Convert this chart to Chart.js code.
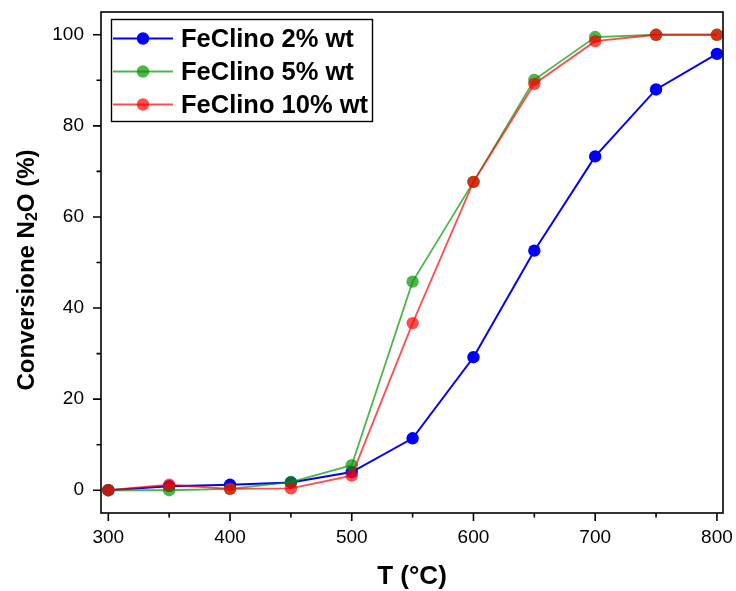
<!DOCTYPE html>
<html>
<head>
<meta charset="utf-8">
<script src="https://cdn.jsdelivr.net/npm/chart.js@4/dist/chart.umd.min.js"></script>
<style>
  html, body { margin: 0; padding: 0; background: #fff; }
  #wrap { width: 736px; height: 591px; }
</style>
</head>
<body>
<div id="wrap"><canvas id="c" width="736" height="591"></canvas></div>
<script>
// Temperatures (°C) and N2O conversion (%) for each FeClino loading
const TEMPS = [300, 350, 400, 450, 500, 550, 600, 650, 700, 750, 800];
const FE2  = [0, 0.9, 1.2, 1.7, 4.0, 11.4, 29.2, 52.6, 73.3, 88.0, 95.8];
const FE5  = [0, 0.0, 0.3, 1.8, 5.5, 45.8, 67.7, 90.1, 99.5, 100, 100];
const FE10 = [0, 1.2, 0.3, 0.4, 3.2, 36.7, 67.7, 89.2, 98.6, 100, 100];

const SERIES_NAMES = ['FeClino 2% wt', 'FeClino 5% wt', 'FeClino 10% wt'];
const SERIES_COLORS = ['rgb(0,0,255)', 'rgba(0,150,0,0.7)', 'rgba(255,0,0,0.7)'];

const X_TICKS = [300, 400, 500, 600, 700, 800];
const X_MINOR = [350, 450, 550, 650, 750];
const Y_TICKS = [0, 20, 40, 60, 80, 100];
const Y_MINOR = [10, 30, 50, 70, 90];

const X_TITLE = 'T (°C)';
const FONT = '"Liberation Sans", Arial, sans-serif';

function pts(ys) { return TEMPS.map((t, i) => ({ x: t, y: ys[i] })); }

const seriesValues = [FE2, FE5, FE10];
const datasets = seriesValues.map((vals, i) => ({
  label: SERIES_NAMES[i],
  data: pts(vals),
  borderColor: SERIES_COLORS[i],
  backgroundColor: SERIES_COLORS[i],
  pointBackgroundColor: SERIES_COLORS[i],
  pointBorderWidth: 0,
  pointRadius: 6.2,
  pointHoverRadius: 6.2,
  borderWidth: i === 0 ? 2 : 1.8,
  showLine: true,
  tension: 0,
  order: 2 - i   // 10% series on top
}));

function noScalePadding(s) {
  s.paddingTop = 0; s.paddingBottom = 0; s.paddingLeft = 0; s.paddingRight = 0;
}

// Frame, inner/outer ticks, axis titles and legend box
const decor = {
  id: 'decor',
  afterDraw(chart) {
    const ctx = chart.ctx;
    const a = chart.chartArea;
    const xs = chart.scales.x, ys = chart.scales.y;
    ctx.save();
    ctx.strokeStyle = '#000';
    ctx.lineWidth = 1.6;
    ctx.strokeRect(a.left, a.top, a.right - a.left, a.bottom - a.top);

    ctx.lineWidth = 1.6;
    ctx.beginPath();
    X_TICKS.forEach(v => { const p = xs.getPixelForValue(v); ctx.moveTo(p, a.bottom); ctx.lineTo(p, a.bottom + 8); });
    X_MINOR.forEach(v => { const p = xs.getPixelForValue(v); ctx.moveTo(p, a.bottom); ctx.lineTo(p, a.bottom + 4.5); });
    Y_TICKS.forEach(v => { const p = ys.getPixelForValue(v); ctx.moveTo(a.left, p); ctx.lineTo(a.left - 8, p); });
    Y_MINOR.forEach(v => { const p = ys.getPixelForValue(v); ctx.moveTo(a.left, p); ctx.lineTo(a.left - 4.5, p); });
    ctx.stroke();

    // x title
    ctx.fillStyle = '#000';
    ctx.font = 'bold 26px ' + FONT;
    ctx.textAlign = 'center';
    ctx.textBaseline = 'middle';
    ctx.fillText(X_TITLE, (a.left + a.right) / 2, 577);

    // y title with subscript
    ctx.save();
    ctx.translate(27, 270);
    ctx.rotate(-Math.PI / 2);
    const parts = [
      { t: 'Conversione N', f: 'bold 24px ' + FONT, dy: 0 },
      { t: '2', f: 'bold 16px ' + FONT, dy: 6 },
      { t: 'O (%)', f: 'bold 24px ' + FONT, dy: 0 }
    ];
    let total = 0;
    parts.forEach(p => { ctx.font = p.f; p.w = ctx.measureText(p.t).width; total += p.w; });
    let x = -total / 2;
    ctx.textAlign = 'left';
    ctx.textBaseline = 'middle';
    parts.forEach(p => { ctx.font = p.f; ctx.fillText(p.t, x, p.dy); x += p.w; });
    ctx.restore();

    // legend
    ctx.lineWidth = 1.4;
    ctx.strokeStyle = '#000';
    ctx.strokeRect(111.5, 19.5, 261, 102);
    const rows = [38.5, 71.5, 104.5];
    SERIES_NAMES.forEach((name, i) => {
      const y = rows[i];
      ctx.strokeStyle = SERIES_COLORS[i];
      ctx.lineWidth = 2;
      ctx.beginPath(); ctx.moveTo(113, y); ctx.lineTo(173, y); ctx.stroke();
      ctx.fillStyle = SERIES_COLORS[i];
      ctx.beginPath(); ctx.arc(143, y, 6.2, 0, Math.PI * 2); ctx.fill();
      ctx.fillStyle = '#000';
      ctx.font = 'bold 25.5px ' + FONT;
      ctx.textAlign = 'left';
      ctx.textBaseline = 'middle';
      ctx.fillText(name, 181, y + 1);
    });
    ctx.restore();
  }
};

new Chart(document.getElementById('c'), {
  type: 'scatter',
  data: { datasets },
  options: {
    responsive: false,
    animation: false,
    events: [],
    layout: { padding: { top: 12, right: 13, left: 0, bottom: 0 } },
    plugins: { legend: { display: false }, tooltip: { enabled: false } },
    scales: {
      x: {
        type: 'linear',
        min: 294, max: 805,
        afterBuildTicks: s => { s.ticks = X_TICKS.map(v => ({ value: v })); },
        afterFit: s => { s.height = 78; noScalePadding(s); },
        grid: { display: false, drawTicks: false },
        border: { display: false },
        ticks: { color: '#000', font: { family: FONT, size: 19 }, padding: 13, maxRotation: 0, autoSkip: false }
      },
      y: {
        type: 'linear',
        min: -5, max: 105,
        afterBuildTicks: s => { s.ticks = Y_TICKS.map(v => ({ value: v })); },
        afterFit: s => { s.width = 101; noScalePadding(s); },
        grid: { display: false, drawTicks: false },
        border: { display: false },
        ticks: { color: '#000', font: { family: FONT, size: 19 }, padding: 17 }
      }
    }
  },
  plugins: [decor]
});
</script>
</body>
</html>
